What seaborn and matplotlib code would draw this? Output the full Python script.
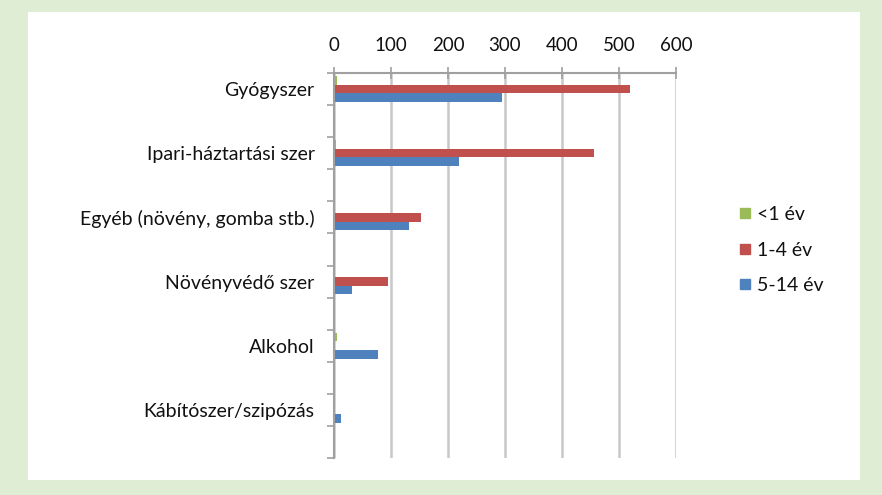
import matplotlib
matplotlib.use("Agg")
import matplotlib.pyplot as plt
import seaborn as sns
import pandas as pd
from matplotlib.patches import Rectangle
from matplotlib.lines import Line2D

categories = ["Gyógyszer", "Ipari-háztartási szer", "Egyéb (növény, gomba stb.)",
              "Növényvédő szer", "Alkohol", "Kábítószer/szipózás"]
series = ["<1 év", "1-4 év", "5-14 év"]
under1 = [5, 3, 1, 1, 5, 0]
age1_4 = [519, 456, 152, 95, 2, 0]
age5_14 = [294, 219, 131, 31, 78, 12]
xticks = [0, 100, 200, 300, 400, 500, 600]

colors = ["#9BBB59", "#C0504D", "#4F81BD"]

rows = []
for i, c in enumerate(categories):
    for s, vals in zip(series, [under1, age1_4, age5_14]):
        rows.append({"cat": c, "age": s, "val": vals[i]})
df = pd.DataFrame(rows)

# Excel-style layout: every category followed by an empty slot
order = []
for i, c in enumerate(categories):
    order.append(c)
    order.append(" " * (i + 1))

sns.set_style("white")
plt.rcParams["font.family"] = ["Lato", "DejaVu Sans"]

fig = plt.figure(figsize=(8.82, 4.95), dpi=100)
fig.patch.set_facecolor("#DFEDD5")
fig.add_artist(Rectangle((28 / 882, 1 - 480 / 495), 832 / 882, 468 / 495,
                         transform=fig.transFigure, facecolor="white",
                         edgecolor="none", zorder=0))

ax = fig.add_axes([334 / 882, 1 - 458 / 495, 342 / 882, 385 / 495])
ax.set_facecolor("none")
sns.barplot(data=df, y="cat", x="val", hue="age", order=order,
            hue_order=series, palette=colors, orient="h", width=0.8,
            saturation=1, ax=ax, zorder=3, linewidth=0, edgecolor="none")

ax.set_xlim(0, 600)
ax.set_ylim(len(order) - 0.5, -0.5)
ax.set_xticks(xticks)
ax.set_xticklabels([str(v) for v in xticks])
ax.xaxis.tick_top()
ax.tick_params(axis="x", which="major", direction="inout", length=8,
               color="#A0A0A0", width=1.2, labelsize=13.5, pad=10,
               labelcolor="#111111")
ax.grid(axis="x", color="#C8C8C8", linewidth=1.8, zorder=0)
ax.grid(axis="y", visible=False)

# y ticks: marks at slot boundaries, labels at category centers
ax.set_yticks([i - 0.5 for i in range(len(order) + 1)])
ax.set_yticklabels([])
ax.set_yticks([2 * i for i in range(len(categories))], minor=True)
ax.set_yticklabels(categories, minor=True)
ax.tick_params(axis="y", which="major", direction="out", length=5,
               color="#A0A0A0", width=1.2, left=True)
ax.tick_params(axis="y", which="minor", length=0, pad=14, labelsize=14,
               labelcolor="#111111")

for side in ["right", "bottom"]:
    ax.spines[side].set_visible(False)
for side in ["left", "top"]:
    ax.spines[side].set_color("#A0A0A0")
    ax.spines[side].set_linewidth(1.5)
    ax.spines[side].set_zorder(4)

ax.set_xlabel("")
ax.set_ylabel("")

ax.legend_.remove()
hs = [Line2D([], [], marker="s", linestyle="none", markersize=7,
             markerfacecolor=c, markeredgecolor=c) for c in colors]
fig.legend(hs, series, loc="center left", bbox_to_anchor=(718 / 882, 1 - 250 / 495),
           frameon=False, fontsize=14, labelspacing=0.95, handletextpad=0.1,
           handlelength=1.0, labelcolor="#111111")

fig.savefig("out.png", dpi=100, facecolor=fig.get_facecolor())
